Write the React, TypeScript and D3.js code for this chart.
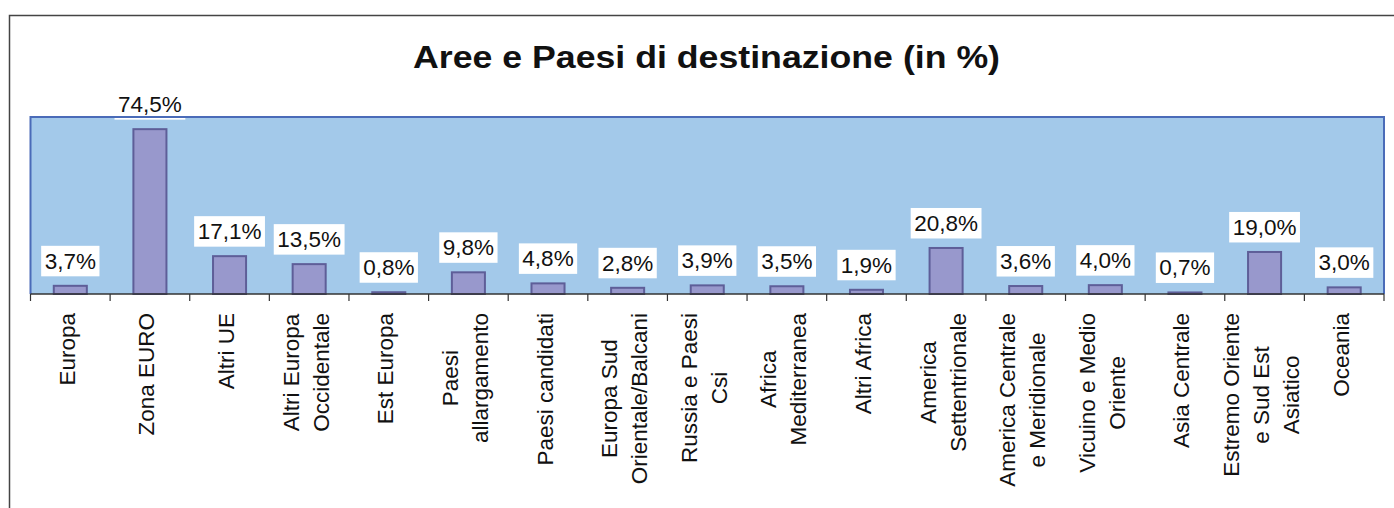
import React, { useEffect, useRef } from 'react';
import * as d3 from 'd3';

// categories (line breaks as in the original axis labels)
const categories = [
  'Europa',
  'Zona EURO',
  'Altri UE',
  'Altri Europa\nOccidentale',
  'Est Europa',
  'Paesi\nallargamento',
  'Paesi candidati',
  'Europa Sud\nOrientale/Balcani',
  'Russia e Paesi\nCsi',
  'Africa\nMediterranea',
  'Altri Africa',
  'America\nSettentrionale',
  'America Centrale\ne Meridionale',
  'Vicuino e Medio\nOriente',
  'Asia Centrale',
  'Estremo Oriente\ne Sud Est\nAsiatico',
  'Oceania',
];

const values = [3.7, 74.5, 17.1, 13.5, 0.8, 9.8, 4.8, 2.8, 3.9, 3.5, 1.9, 20.8, 3.6, 4.0, 0.7, 19.0, 3.0];

const yDomain = [0, 80];

const W = 1394;
const H = 508;
const plot = { left: 30.5, right: 1384, top: 117, bottom: 294 };
const FONT = 'Liberation Sans, Arial, sans-serif';

const fmt = (v: number) => v.toFixed(1).replace('.', ',') + '%';

const App = () => {
  const svgRef = useRef<SVGSVGElement>(null);

  useEffect(() => {
    const svg = d3.select(svgRef.current);
    svg.selectAll('*').remove();

    // outer frame (runs past the right and bottom edge)
    svg.append('rect')
      .attr('x', 9.5).attr('y', 15.5)
      .attr('width', 1500).attr('height', 700)
      .attr('fill', 'white')
      .attr('stroke', '#444').attr('stroke-width', 1.5);

    // title
    svg.append('text')
      .attr('x', 413).attr('y', 67.5)
      .attr('textLength', 587)
      .attr('lengthAdjust', 'spacingAndGlyphs')
      .attr('font-family', FONT)
      .attr('font-weight', 'bold')
      .attr('font-size', 32)
      .attr('fill', '#111')
      .text('Aree e Paesi di destinazione (in %)');

    const x = d3.scaleBand<string>()
      .domain(categories)
      .range([plot.left, plot.right])
      .paddingInner(0.585)
      .paddingOuter(0.2925);

    const y = d3.scaleLinear().domain(yDomain).range([plot.bottom, plot.top]);

    // plot background
    svg.append('rect')
      .attr('x', plot.left).attr('y', plot.top)
      .attr('width', plot.right - plot.left).attr('height', plot.bottom - plot.top)
      .attr('fill', '#A3C9EA');

    // bars
    svg.append('g')
      .selectAll('rect')
      .data(values)
      .enter()
      .append('rect')
      .attr('x', (_, i) => x(categories[i])!)
      .attr('y', (d) => y(d))
      .attr('width', x.bandwidth())
      .attr('height', (d) => y(0) - y(d))
      .attr('fill', '#9898CC')
      .attr('stroke', '#5E5E98')
      .attr('stroke-width', 2);

    // value labels with white boxes
    const lbl = svg.append('g');
    values.forEach((v, i) => {
      const cx = x(categories[i])! + x.bandwidth() / 2;
      const base = y(v) - 17;
      const g = lbl.append('g');
      const box = g.append('rect').attr('fill', 'white');
      const t = g.append('text')
        .attr('x', cx).attr('y', base)
        .attr('text-anchor', 'middle')
        .attr('font-family', FONT)
        .attr('font-size', 22.5)
        .attr('fill', '#111')
        .text(fmt(v));
      const w = (t.node() as SVGTextElement).getComputedTextLength();
      box.attr('x', cx - w / 2 - 3.5).attr('y', base - 23)
        .attr('width', w + 7).attr('height', 30.5);
    });

    // plot border (top, left, right)
    svg.append('path')
      .attr('d', `M${plot.left},${plot.bottom}V${plot.top}H${plot.right}V${plot.bottom}`)
      .attr('fill', 'none')
      .attr('stroke', '#4A6BB8')
      .attr('stroke-width', 2);

    // x axis with ticks at band boundaries
    const step = x.step();
    const bounds = d3.range(categories.length + 1).map((i) => plot.left + i * step);
    svg.append('line')
      .attr('x1', plot.left).attr('x2', plot.right)
      .attr('y1', plot.bottom).attr('y2', plot.bottom)
      .attr('stroke', '#333').attr('stroke-width', 1.5);
    svg.append('g')
      .selectAll('line')
      .data(bounds)
      .enter()
      .append('line')
      .attr('x1', (d) => d).attr('x2', (d) => d)
      .attr('y1', plot.bottom).attr('y2', plot.bottom + 7)
      .attr('stroke', '#333').attr('stroke-width', 1.2);

    // rotated category labels
    const lineH = 30;
    const axisG = svg.append('g');
    categories.forEach((c) => {
      const lines = c.split('\n');
      const cx = x(c)! + x.bandwidth() / 2 - 3;
      const g = axisG.append('g');
      const texts = lines.map((l, j) =>
        g.append('text')
          .attr('x', 0)
          .attr('y', (j - (lines.length - 1) / 2) * lineH + 7.5)
          .attr('text-anchor', 'middle')
          .attr('font-family', FONT)
          .attr('font-size', 22.5)
          .attr('fill', '#111')
          .text(l)
      );
      const maxW = d3.max(texts, (t) => (t.node() as SVGTextElement).getComputedTextLength()) || 0;
      g.attr('transform', `translate(${cx},${313 + maxW / 2}) rotate(-90)`);
    });
  }, []);

  return (
    <svg
      ref={svgRef}
      width={W}
      height={H}
      style={{ position: 'absolute', left: 0, top: 0, display: 'block', background: 'white' }}
    />
  );
};

export default App;
